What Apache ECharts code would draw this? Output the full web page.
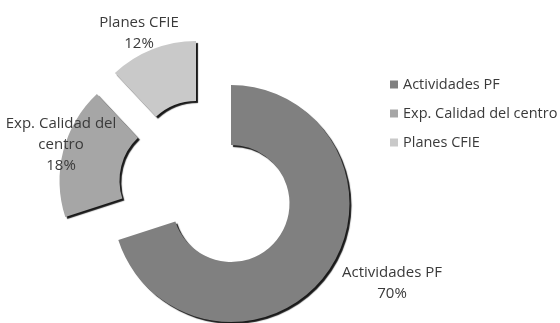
<!DOCTYPE html>
<html>
<head>
<meta charset="utf-8">
<script src="https://cdn.jsdelivr.net/npm/echarts@6/dist/echarts.min.js"></script>
<style>
  html, body { margin: 0; padding: 0; background: #ffffff; }
  #chart { width: 560px; height: 323px; }
</style>
</head>
<body>
<div id="chart"></div>
<script>
// Share of training activity by origin
const categories = ['Actividades PF', 'Exp. Calidad del centro', 'Planes CFIE'];
const shares = [70, 18, 12];
const labelTexts = ['Actividades PF', 'Exp. Calidad del\ncentro', 'Planes CFIE'];

const sliceColors = ['#808080', '#a6a6a6', '#c9c9c9'];
const textColor = '#3a3a3a';
const fontFamily = '"Open Sans", "Liberation Sans", sans-serif';

// ring geometry and how far each slice is pulled out of the ring
const ring = { cx: 231, cy: 203.5, inner: 58.5, outer: 118.5 };
const pullOut = [[0, 0], [-53, -23], [-35, -44]];
const labelAt = [[392, 283], [61, 145], [139, 33]];

const chart = echarts.init(document.getElementById('chart'), null, { renderer: 'canvas' });

// one series per slice so each slice can sit on its own centre;
// the other slices of that series are left transparent
const series = categories.map((_, i) => ({
  type: 'pie',
  center: [ring.cx + pullOut[i][0], ring.cy + pullOut[i][1]],
  radius: [ring.inner, ring.outer],
  startAngle: 90,
  clockwise: true,
  avoidLabelOverlap: false,
  silent: true,
  animation: false,
  z: 2 + i,
  labelLine: { show: false },
  data: categories.map((name, j) => ({
    name,
    value: shares[j],
    itemStyle: j === i
      ? { color: sliceColors[j], shadowColor: 'rgba(0,0,0,0.9)', shadowBlur: 1, shadowOffsetX: 2, shadowOffsetY: 2 }
      : { color: 'rgba(0,0,0,0)' },
    label: j === i
      ? {
          show: true,
          position: 'outside',
          formatter: (p) => labelTexts[j] + '\n' + Math.round(p.percent) + '%',
          color: textColor,
          fontFamily,
          fontSize: 15,
          lineHeight: 21,
          align: 'center'
        }
      : { show: false }
  })),
  labelLayout: (p) => p.dataIndex === i
    ? { x: labelAt[i][0], y: labelAt[i][1], align: 'center', verticalAlign: 'middle' }
    : {}
}));

chart.setOption({
  backgroundColor: '#ffffff',
  animation: false,
  legend: {
    orient: 'vertical',
    left: 385,
    top: 70,
    icon: 'rect',
    itemWidth: 8,
    itemHeight: 8,
    itemGap: 10,
    selectedMode: false,
    textStyle: { color: textColor, fontFamily, fontSize: 14.5, lineHeight: 19 },
    data: categories.map((name, i) => ({ name, itemStyle: { color: sliceColors[i] } }))
  },
  series
});
</script>
</body>
</html>
